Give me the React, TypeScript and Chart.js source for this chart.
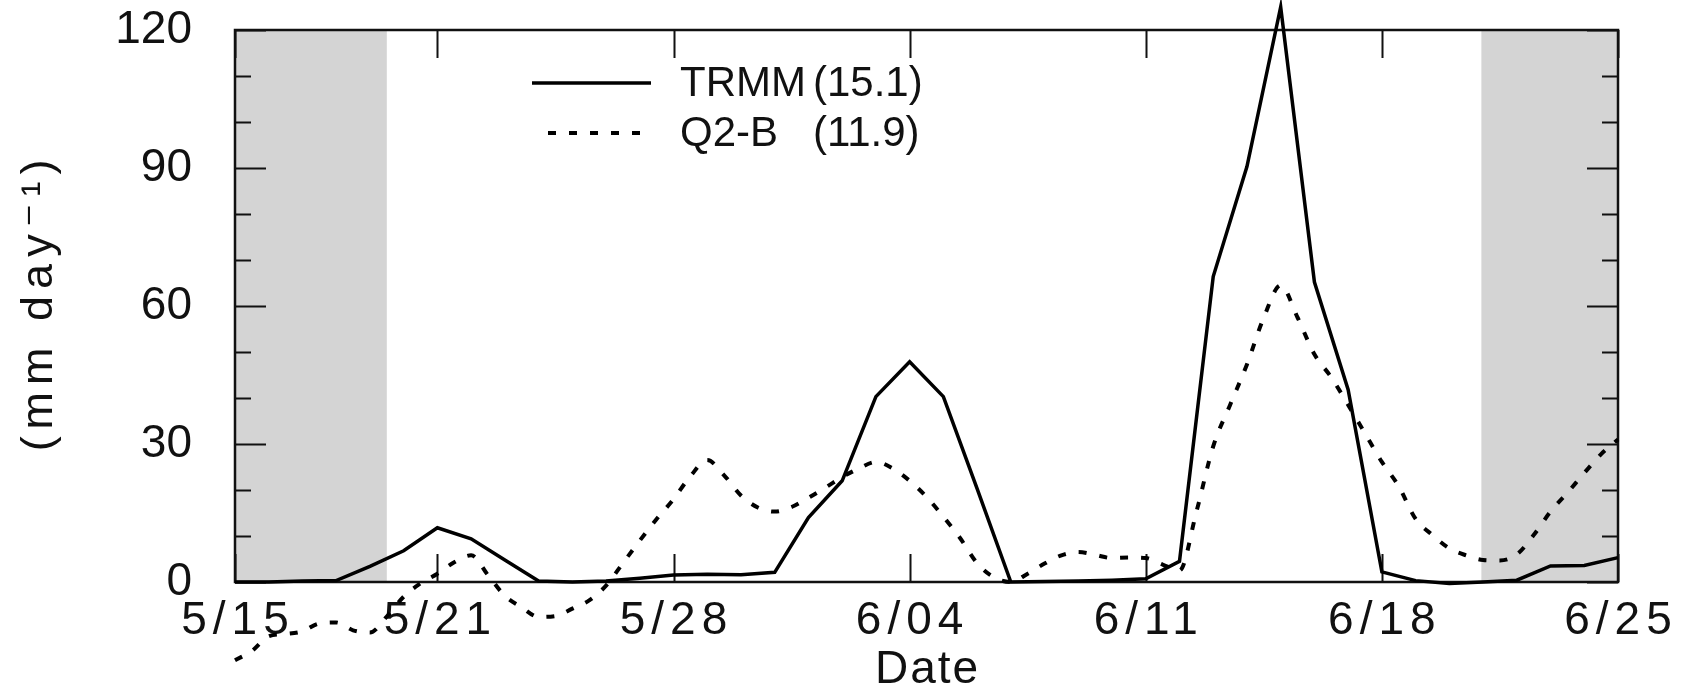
import React, { useEffect, useRef } from 'react';
import { Chart, registerables } from 'chart.js';

Chart.register(...registerables);

// ---------- data ----------
// x axis: days since 5/15 (0 = 5/15, 41 = 6/25)
const tickDays = [0, 6, 13, 20, 27, 34, 41];
const tickLabels = ['5/15', '5/21', '5/28', '6/04', '6/11', '6/18', '6/25'];

// TRMM daily rain rate (mm/day), one value per day from 5/15 to 6/25
const trmmValues = [
  0, 0, 0.2, 0.3, 3.4, 6.8, 11.8, 9.4, 4.8, 0.2,
  0, 0.2, 0.8, 1.5, 1.7, 1.6, 2.1, 14.0, 22.0, 40.3,
  47.9, 40.3, 20.3, 0, 0.1, 0.2, 0.4, 0.7, 4.5, 66.4,
  90.3, 125.0, 65.2, 41.8, 2.2, 0.3, -0.3, 0, 0.4, 3.5,
  3.6, 5.3,
];

// Q2-B budget residual (mm/day), every half day from 5/15 to 6/25
const q2bStep = 0.5;
const q2bValues = [
  -17, -15, -11.8, -11.3, -10.7, -9, -8.8, -10.5, -11, -7.5,
  -3.2, -0.3, 1.8, 4.3, 5.8, 1.5, -3, -5.5, -7.6, -7.4,
  -5.8, -4, -0.8, 4.1, 9, 13.7, 18, 23, 26.5, 23.2,
  18.8, 16.2, 15.3, 16.3, 18.3, 20.5, 22.8, 24.7, 26.1, 24.7,
  22, 18.5, 14.2, 9.5, 4.1, 1, 0, 1.8, 4, 5.8,
  6.5, 5.9, 5.2, 5.3, 5.2, 3.8, 2.5, 15.2, 29.5, 38.5,
  47.3, 57.5, 64.5, 57.5, 49.5, 44.5, 38.5, 32.3, 26.1, 20.8,
  13.7, 10.2, 7.3, 5.8, 4.8, 4.7, 6, 10.2, 15.3, 19.4,
  23.7, 27.8, 31,
];

const seriesNames = ['TRMM', 'Q2-B'];
const seriesMeans = ['(15.1)', '(11.9)'];

// y axis
const yMin = 0;
const yMax = 120;
const yMinorStep = 10;
const yLabelStep = 30;

// shaded (gray) periods, in days since 5/15
const shadedRanges: [number, number][] = [
  [0, 4.5],
  [36.95, 41],
];

// ---------- styles ----------
const FONT = '"Liberation Sans", Arial, "DejaVu Sans", sans-serif';
const INK = '#111';

const shadePlugin = {
  id: 'shade',
  beforeDraw(chart: any) {
    const { ctx, chartArea, scales } = chart;
    ctx.save();
    ctx.fillStyle = '#d4d4d4';
    shadedRanges.forEach(([a, b]) => {
      const x0 = scales.x.getPixelForValue(a);
      const x1 = scales.x.getPixelForValue(b);
      ctx.fillRect(x0, chartArea.top, x1 - x0, chartArea.bottom - chartArea.top);
    });
    ctx.restore();
  },
};

const framePlugin = {
  id: 'frame',
  beforeDatasetsDraw(chart: any) {
    const { ctx, chartArea, scales } = chart;
    const { left, right, top, bottom } = chartArea;
    ctx.save();
    ctx.strokeStyle = INK;
    ctx.lineWidth = 2;
    ctx.beginPath();
    // y ticks (inward, both sides)
    scales.y.ticks.forEach((t: any) => {
      const py = Math.round(scales.y.getPixelForValue(t.value)) + 0.5;
      const len = t.value % yLabelStep === 0 ? 31 : 16;
      ctx.moveTo(left, py);
      ctx.lineTo(left + len, py);
      ctx.moveTo(right, py);
      ctx.lineTo(right - len, py);
    });
    // x ticks (inward, top and bottom)
    scales.x.ticks.forEach((t: any) => {
      const px = Math.round(scales.x.getPixelForValue(t.value)) + 0.5;
      ctx.moveTo(px, top);
      ctx.lineTo(px, top + 28);
      ctx.moveTo(px, bottom);
      ctx.lineTo(px, bottom - 28);
    });
    ctx.stroke();
    ctx.lineWidth = 2.5;
    ctx.strokeRect(left, top, right - left, bottom - top);
    ctx.restore();
  },
};

const legendPlugin = {
  id: 'innerLegend',
  afterDatasetsDraw(chart: any) {
    const ctx = chart.ctx;
    ctx.save();
    chart.data.datasets.forEach((ds: any, i: number) => {
      const y = 83 + i * 50;
      ctx.beginPath();
      ctx.setLineDash(ds.borderDash || []);
      ctx.lineWidth = ds.borderWidth;
      ctx.strokeStyle = ds.borderColor;
      ctx.moveTo(i === 0 ? 532 : 548, y);
      ctx.lineTo(651, y);
      ctx.stroke();
      ctx.setLineDash([]);
      ctx.fillStyle = INK;
      ctx.font = `42px ${FONT}`;
      ctx.textBaseline = 'middle';
      ctx.textAlign = 'left';
      ctx.fillText(seriesNames[i], 680, y + 1);
      ctx.fillText(seriesMeans[i], 813, y + 1);
    });
    ctx.restore();
  },
};

// letter spacing for axis texts (the original font is wide-set)
const spacingPlugin = {
  id: 'spacing',
  beforeDraw(chart: any) {
    const patch = (scale: any, method: string, ls: number, dx: number, dy: number) => {
      if (!scale || scale['__p_' + method]) return;
      const orig = scale[method].bind(scale);
      scale[method] = (...args: any[]) => {
        const ctx = chart.ctx;
        ctx.save();
        ctx.letterSpacing = ls + 'px';
        ctx.translate(dx, dy);
        orig(...args);
        ctx.restore();
      };
      scale['__p_' + method] = true;
    };
    patch(chart.scales.x, 'drawLabels', 6, 3, 0);
    patch(chart.scales.x, 'drawTitle', 2, 1, 0);
    patch(chart.scales.y, 'drawTitle', 7, 0, -4);
  },
};

export default function App() {
  const ref = useRef<HTMLCanvasElement | null>(null);

  useEffect(() => {
    if (!ref.current) return;
    const chart = new Chart(ref.current, {
      type: 'line',
      data: {
        datasets: [
          {
            label: `${seriesNames[0]} ${seriesMeans[0]}`,
            data: trmmValues.map((v, i) => ({ x: i, y: v })),
            borderColor: '#000',
            borderWidth: 3.5,
            pointRadius: 0,
            tension: 0,
            fill: false,
            clip: false,
          } as any,
          {
            label: `${seriesNames[1]} ${seriesMeans[1]}`,
            data: q2bValues.map((v, i) => ({ x: i * q2bStep, y: v })),
            borderColor: '#000',
            borderWidth: 4,
            borderDash: [8, 13],
            pointRadius: 0,
            cubicInterpolationMode: 'monotone',
            fill: false,
            clip: false,
          } as any,
        ],
      },
      options: {
        animation: false,
        responsive: false,
        maintainAspectRatio: false,
        devicePixelRatio: 1,
        layout: { padding: { left: 0, right: 68, top: 30, bottom: 0 } },
        plugins: {
          legend: { display: false },
          tooltip: { enabled: false },
        },
        scales: {
          x: {
            type: 'linear',
            min: tickDays[0],
            max: tickDays[tickDays.length - 1],
            afterBuildTicks: (s: any) => {
              s.ticks = tickDays.map((v) => ({ value: v }));
            },
            afterFit: (s: any) => {
              s.height = 114;
              s.paddingLeft = 0;
              s.paddingRight = 0;
              s.paddingTop = 0;
              s.paddingBottom = 0;
            },
            grid: { display: false, drawTicks: false },
            border: { display: false },
            ticks: {
              autoSkip: false,
              maxRotation: 0,
              padding: 12,
              color: INK,
              font: { family: FONT, size: 46, lineHeight: 1.2 },
              callback: (v: any) => {
                const k = tickDays.indexOf(Number(v));
                return k >= 0 ? tickLabels[k] : '';
              },
            },
            title: {
              display: true,
              text: 'Date',
              color: INK,
              font: { family: FONT, size: 46, lineHeight: 1.1 },
              padding: 0,
            },
          },
          y: {
            type: 'linear',
            min: yMin,
            max: yMax,
            afterFit: (s: any) => {
              s.width = 235;
              s.paddingLeft = 0;
              s.paddingRight = 0;
              s.paddingTop = 0;
              s.paddingBottom = 0;
            },
            grid: { display: false, drawTicks: false },
            border: { display: false },
            ticks: {
              stepSize: yMinorStep,
              autoSkip: false,
              padding: 43,
              color: INK,
              font: { family: FONT, size: 46, lineHeight: 1.2 },
              callback: (v: any) => (Number(v) % yLabelStep === 0 ? String(v) : ''),
            },
            title: {
              display: true,
              text: '(mm day\u207B\u00B9)',
              color: INK,
              font: { family: FONT, size: 45, lineHeight: 1.2 },
              padding: { top: 13, bottom: 0 },
            },
          },
        },
      } as any,
      plugins: [shadePlugin, spacingPlugin, framePlugin, legendPlugin],
    });
    return () => chart.destroy();
  }, []);

  return (
    <div style={{ position: 'absolute', left: 0, top: 0, width: 1686, height: 696, background: '#fff' }}>
      <canvas ref={ref} width={1686} height={696} style={{ display: 'block', width: 1686, height: 696 }} />
    </div>
  );
}
